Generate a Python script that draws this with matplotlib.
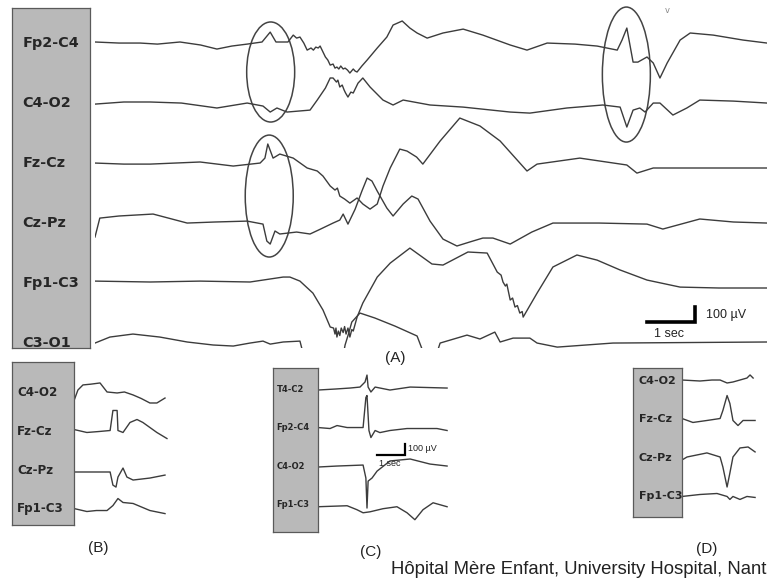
import matplotlib.pyplot as plt
from matplotlib import transforms
from matplotlib.patches import Ellipse

# ---- panel A: 6-channel bipolar montage, (time s, amplitude uV) ----
a_fp2_c4 = [(0, 7), (0.5, 0), (0.94, 0), (1.3, -7), (1.77, 7), (2.2, -13), (2.54, -40), (2.85, -20),
            (3.17, -7), (3.48, 7), (3.65, 73), (3.77, 7), (4.02, 7), (4.13, 53), (4.2, 33), (4.27, 40),
            (4.35, 0), (4.42, -47), (4.5, -33), (4.55, -47), (4.6, -27), (4.65, -33), (4.69, -20),
            (4.8, -93), (4.85, -113), (4.9, -147), (4.96, -140), (5.0, -167), (5.04, -160),
            (5.08, -173), (5.12, -153), (5.17, -173), (5.21, -167), (5.26, -180), (5.31, -200),
            (5.38, -173), (5.42, -187), (5.46, -193), (5.56, -153), (5.67, -113), (5.88, -33),
            (6.08, 40), (6.21, 120), (6.4, 147), (6.56, 100), (6.71, 67), (6.92, 33), (7.25, 67),
            (7.67, 93), (8.08, 53), (8.65, -13), (9.0, -47), (9.42, 0), (10.0, -7), (10.46, -20),
            (10.88, -47), (10.98, 20), (11.08, 100), (11.21, -127), (11.31, -127), (11.5, -93),
            (11.63, -133), (11.77, -233), (11.92, -133), (12.19, 20), (12.4, 67), (12.88, 53),
            (13.5, 20), (14.0, 0)]
a_c4_o2 = [(0, -7), (0.6, 7), (1.15, 7), (1.8, 0), (2.54, -33), (3.17, 0), (3.5, -20), (3.65, -60),
           (3.79, -33), (4.0, -60), (4.48, -47), (4.63, 20), (4.8, 100), (4.9, 167), (4.96, 167),
           (5.03, 140), (5.06, 153), (5.1, 107), (5.15, 120), (5.19, 87), (5.22, 67), (5.27, 40),
           (5.33, 73), (5.38, 67), (5.48, 133), (5.58, 167), (5.73, 107), (6.0, 20), (6.21, -13),
           (6.42, 20), (6.98, -13), (7.67, -27), (8.65, -60), (9.06, -67), (9.83, -33), (10.58, -13),
           (10.94, -27), (11.08, -160), (11.21, -47), (11.35, -33), (11.46, -60), (11.63, 0),
           (11.77, 0), (12.04, -80), (12.33, -33), (12.6, 20), (13.3, 13), (14.0, 0)]
a_fz_cz = [(0, 0), (0.6, -7), (1.15, -7), (2.19, 7), (2.88, -20), (3.44, 0), (3.54, 33), (3.6, 127),
           (3.71, 33), (3.85, 60), (4.13, 33), (4.42, -33), (4.63, -53), (4.75, -87), (4.9, -153),
           (5.0, -180), (5.05, -167), (5.1, -220), (5.2, -240), (5.31, -267), (5.46, -233),
           (5.58, -273), (5.73, -307), (5.88, -273), (6.0, -153), (6.15, -33), (6.35, 93), (6.5, 80),
           (6.6, 60), (6.7, 40), (6.83, -7), (7.19, 147), (7.6, 300), (8.02, 247), (8.44, 147),
           (9.0, -53), (9.21, -7), (10.1, 33), (11.08, -13), (11.29, -67), (11.63, -33), (14.0, -33)]
a_cz_pz = [(0, -93), (0.1, 33), (0.5, 47), (1.21, 60), (1.92, 0), (2.5, 7), (3.17, 13), (3.5, -7),
           (3.58, -120), (3.65, -140), (3.75, -53), (3.85, -73), (4.2, -60), (4.48, -73), (4.7, -40),
           (4.96, 0), (5.1, 20), (5.17, 60), (5.27, -7), (5.42, 93), (5.56, 213), (5.67, 300),
           (5.77, 280), (5.88, 213), (6.08, 100), (6.21, 47), (6.42, 127), (6.6, 180), (6.73, 160),
           (6.98, 13), (7.25, -107), (7.54, -153), (7.8, -127), (8.08, -100), (8.29, -100),
           (8.65, -140), (9.1, -60), (9.54, 0), (10.5, 0), (11.5, -7), (11.83, -40), (12.6, 27),
           (13.3, 7), (14.0, 0)]
a_fp1_c3 = [(0, 13), (1.15, 7), (2.19, 13), (3.23, 7), (3.92, 40), (4.06, 40), (4.27, 13), (4.54, -67),
            (4.75, -180), (4.9, -293), (4.97, -300), (5.0, -340), (5.02, -300), (5.04, -360),
            (5.07, -320), (5.1, -350), (5.13, -300), (5.17, -330), (5.2, -290), (5.23, -340),
            (5.27, -300), (5.31, -360), (5.35, -310), (5.38, -320), (5.46, -227), (5.58, -133),
            (5.88, 40), (6.15, 133), (6.56, 233), (7.02, 127), (7.25, 120), (7.77, 207), (8.17, 200),
            (8.38, 73), (8.46, 53), (8.5, 7), (8.55, -20), (8.58, -7), (8.65, -113), (8.7, -100),
            (8.75, -160), (8.8, -150), (8.85, -200), (8.9, -190), (8.92, -227), (9.21, -67),
            (9.54, 107), (10.04, 187), (10.46, 153), (10.94, 87), (11.5, 20), (12.19, -27),
            (13.0, -33), (14.0, -33)]
a_c3_o1 = [(0, 0), (0.31, 40), (0.79, 60), (1.35, 40), (1.92, 7), (2.46, -13), (2.88, -20), (3.23, 0),
           (3.5, 13), (3.65, -7), (3.92, 7), (4.27, 13), (4.35, -87), (4.65, -213), (5.0, -180),
           (5.08, -40), (5.15, -120), (5.21, -13), (5.28, 60), (5.35, 140), (5.52, 200), (5.83, 167),
           (6.25, 113), (6.71, 47), (6.9, -113), (7.06, -127), (7.19, 0), (7.75, 53), (8.02, 27),
           (8.33, 73), (8.44, 7), (8.71, 33), (9.06, 33), (9.21, 0), (9.63, -27), (10.79, 0), (14.0, 7)]
a_names = ["Fp2-C4", "C4-O2", "Fz-Cz", "Cz-Pz", "Fp1-C3", "C3-O1"]
a_traces = [a_fp2_c4, a_c4_o2, a_fz_cz, a_cz_pz, a_fp1_c3, a_c3_o1]

# ---- panel B ----
b_c4_o2 = [(0, -70), (0.14, 27), (0.32, 73), (0.6, 80), (0.93, 91), (1.18, 9), (1.54, 0), (1.8, 9),
           (2.11, -18), (2.4, -50), (2.71, -91), (2.96, -91), (3.25, -46)]
b_fz_cz = [(0, 18), (0.46, -9), (0.9, 0), (1.29, 9), (1.39, 191), (1.54, 191), (1.57, 9), (1.75, -9),
           (2.0, 82), (2.25, 109), (2.46, 82), (2.96, -9), (3.32, -64)]
b_cz_pz = [(0, -18), (1.29, -18), (1.39, -137), (1.5, -155), (1.57, -64), (1.75, 18), (1.89, -64),
           (2.11, -91), (2.71, -73), (3.25, -46)]
b_fp1_c3 = [(0, 0), (0.46, -27), (0.8, -18), (1.18, -18), (1.39, 27), (1.57, 91), (1.75, 55),
            (2.11, 46), (2.71, -18), (3.25, -46)]
b_names = ["C4-O2", "Fz-Cz", "Cz-Pz", "Fp1-C3"]
b_traces = [b_c4_o2, b_fz_cz, b_cz_pz, b_fp1_c3]

# ---- panel C ----
c_t4_c2 = [(0, -9), (0.61, 0), (1.14, 9), (1.5, 18), (1.68, 64), (1.75, 127), (1.79, 18), (1.89, -27),
           (2.04, 18), (2.57, -9), (3.29, 18), (4.61, 9)]
c_fp2_c4 = [(0, 0), (0.43, -9), (0.68, 18), (1.04, 0), (1.61, 0), (1.71, 273), (1.75, 291), (1.82, -27),
            (1.89, -91), (2.04, -27), (2.21, -46), (2.57, -27), (3.18, -9), (4.25, -9), (4.61, -27)]
c_c4_o2 = [(0, -9), (0.68, 0), (1.61, 9), (1.71, -109), (1.75, -382), (1.79, -137), (1.93, -109),
           (2.11, -46), (2.57, 46), (3.29, 64), (4.0, 18), (4.61, 0)]
c_fp1_c3 = [(0, -20), (1.04, -11), (1.39, -47), (1.61, -75), (1.86, -66), (2.32, -38), (2.82, -20),
            (3.18, -75), (3.46, -138), (3.75, -47), (4.11, 16), (4.61, -20)]
c_names = ["T4-C2", "Fp2-C4", "C4-O2", "Fp1-C3"]
c_traces = [c_t4_c2, c_fp2_c4, c_c4_o2, c_fp1_c3]

# ---- panel D ----
d_c4_o2 = [(0, 9), (0.64, 0), (1.07, 9), (1.36, 9), (1.61, -18), (1.82, -9), (2.07, 9), (2.32, 27),
           (2.43, 55), (2.54, 27)]
d_fz_cz = [(0, 9), (0.39, -27), (0.89, -9), (1.36, 9), (1.46, 82), (1.61, 218), (1.71, 146),
           (1.82, -9), (2.0, -55), (2.18, -9), (2.61, -9)]
d_cz_pz = [(0, -18), (0.18, 9), (0.89, 46), (1.36, 9), (1.46, -82), (1.61, -264), (1.71, -137),
           (1.82, 9), (2.07, 91), (2.36, 100), (2.61, 55)]
d_fp1_c3 = [(0, 0), (0.64, 18), (1.25, 27), (1.61, 0), (1.71, -27), (1.82, 0), (2.07, -27),
            (2.32, 0), (2.61, -9)]
d_names = ["C4-O2", "Fz-Cz", "Cz-Pz", "Fp1-C3"]
d_traces = [d_c4_o2, d_fz_cz, d_cz_pz, d_fp1_c3]

W, H = 767, 584
fig = plt.figure(figsize=(W / 100, H / 100), dpi=100)
INK = "#3c3c3c"
BOX = "#b9b9b9"


def px_axes(x0, y0, x1, y1):
    ax = fig.add_axes([x0 / W, 1 - y1 / H, (x1 - x0) / W, (y1 - y0) / H])
    ax.set_axis_off()
    return ax


def montage(box, trace_px, xlim, ylim, names, traces, spacing, fsize, lab_x):
    ax = px_axes(*trace_px)
    ax.set_xlim(*xlim)
    ax.set_ylim(*ylim)
    bx = fig.add_axes([box[0] / W, 1 - box[3] / H, (box[2] - box[0]) / W, (box[3] - box[1]) / H])
    bx.set_xticks([])
    bx.set_yticks([])
    bx.set_facecolor(BOX)
    for s in bx.spines.values():
        s.set_color("#5a5a5a")
        s.set_linewidth(0.9)
    tr = transforms.blended_transform_factory(bx.transAxes, ax.transData)
    for i, (name, pts) in enumerate(zip(names, traces)):
        t, uv = zip(*pts)
        off = -spacing * i
        ax.plot(t, [v + off for v in uv], color=INK, lw=1.0, solid_joinstyle="round")
        bx.text(lab_x, off, name, transform=tr, ha="left", va="center",
                fontsize=fsize, fontweight="bold", color="#262626", family="DejaVu Sans")
    return ax


# panel A: 48 px per second, 60 px per 400 uV
axA = montage((12, 8, 90, 348), (95, 0, 767, 348), (0, 14), (-2033, 287),
              a_names, a_traces, 400, 10.4, 0.13)
# circled spikes: (time, centre uV, height uV)
for t0, yc, h in [(3.66, -193, 667), (3.63, -1020, 813), (11.07, -210, 900)]:
    axA.add_patch(Ellipse((t0, yc), 1.0, h, fill=False, ec="#444444", lw=1.1))
axA.text(11.93, 220, "v", fontsize=6, ha="center", va="center", color="#888888")
# calibration: 1 sec x 100 uV
axA.plot([11.5, 12.5, 12.5], [-1860, -1860, -1760], color="black", lw=2.6, solid_joinstyle="miter")
axA.text(12.72, -1810, "100 µV", fontsize=9, va="center", color="#222222", family="Liberation Sans")
axA.text(11.95, -1940, "1 sec", fontsize=9, ha="center", va="center", color="#222222",
         family="Liberation Sans")

# panels B, C, D: 28 px per second, 11 px per 100 uV
montage((12, 362, 74, 525), (74, 355, 175, 530), (0, 101 / 28), (-1245, 345),
        b_names, b_traces, 350, 8.6, 0.08)
axC = montage((273, 368, 318, 532), (318, 360, 452, 535), (0, 134 / 28), (-1327, 264),
              c_names, c_traces, 350, 6.0, 0.08)
axC.plot([2.1, 3.1, 3.1], [-600, -600, -500], color="black", lw=1.6, solid_joinstyle="miter")
axC.text(3.2, -545, "100 µV", fontsize=6.5, va="center", color="#222222", family="Liberation Sans")
axC.text(2.55, -680, "1 sec", fontsize=6.5, ha="center", va="center", color="#222222",
         family="Liberation Sans")
montage((633, 368, 682, 517), (682, 360, 767, 520), (0, 85 / 28), (-1264, 191),
        d_names, d_traces, 350, 8.0, 0.12)

for lab, x, y in [("(A)", 395, 358), ("(B)", 98, 548), ("(C)", 371, 552), ("(D)", 707, 549)]:
    fig.text(x / W, 1 - y / H, lab, ha="center", va="center", fontsize=11,
             color="#222222", family="Liberation Sans")
fig.text(766 / W, 1 - 570 / H, "Hôpital Mère Enfant, University Hospital, Nant",
         ha="right", va="center", fontsize=13.3, color="#222222", family="Liberation Sans")

fig.savefig("out.png", dpi=100, facecolor="white")
